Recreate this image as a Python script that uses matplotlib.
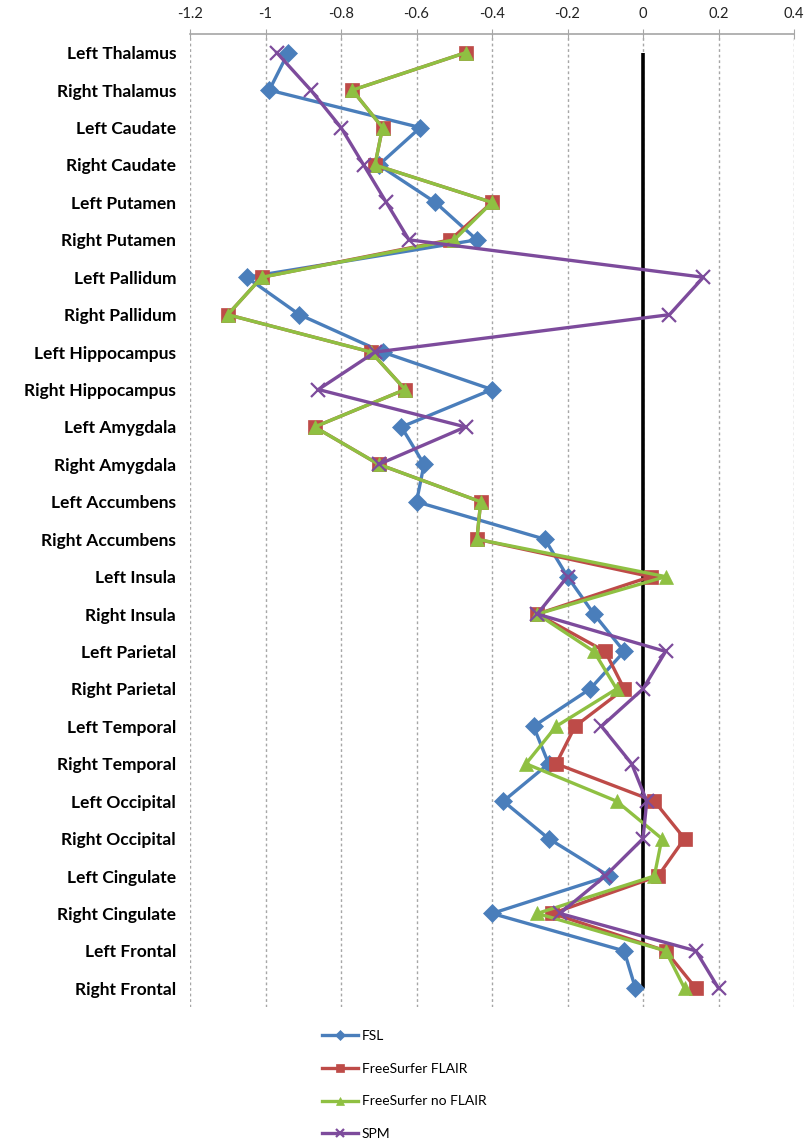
import numpy as np
import matplotlib
matplotlib.use("Agg")
import matplotlib.pyplot as plt

plt.rcParams["font.family"] = ["Lato", "DejaVu Sans"]

regions = [
    "Left Thalamus", "Right Thalamus", "Left Caudate", "Right Caudate",
    "Left Putamen", "Right Putamen", "Left Pallidum", "Right Pallidum",
    "Left Hippocampus", "Right Hippocampus", "Left Amygdala", "Right Amygdala",
    "Left Accumbens", "Right Accumbens", "Left Insula", "Right Insula",
    "Left Parietal", "Right Parietal", "Left Temporal", "Right Temporal",
    "Left Occipital", "Right Occipital", "Left Cingulate", "Right Cingulate",
    "Left Frontal", "Right Frontal",
]

fsl = [-0.94, -0.99, -0.59, -0.70, -0.55, -0.44, -1.05, -0.91,
       -0.69, -0.40, -0.64, -0.58, -0.60, -0.26, -0.20, -0.13,
       -0.05, -0.14, -0.29, -0.25, -0.37, -0.25, -0.09, -0.40,
       -0.05, -0.02]
fs_flair = [-0.47, -0.77, -0.69, -0.71, -0.40, -0.51, -1.01, -1.10,
            -0.72, -0.63, -0.87, -0.70, -0.43, -0.44, 0.02, -0.28,
            -0.10, -0.05, -0.18, -0.23, 0.03, 0.11, 0.04, -0.24,
            0.06, 0.14]
fs_noflair = [-0.47, -0.77, -0.69, -0.71, -0.40, -0.50, -1.01, -1.10,
              -0.72, -0.63, -0.87, -0.70, -0.43, -0.44, 0.06, -0.28,
              -0.13, -0.07, -0.23, -0.31, -0.07, 0.05, 0.03, -0.28,
              0.06, 0.11]
# no accumbens estimate for SPM
spm = [-0.97, -0.88, -0.80, -0.74, -0.68, -0.62, 0.16, 0.07,
       -0.71, -0.86, -0.47, -0.70, np.nan, np.nan, -0.20, -0.28,
       0.06, 0.00, -0.11, -0.03, 0.01, 0.00, -0.10, -0.22,
       0.14, 0.20]

xticks = [-1.2, -1.0, -0.8, -0.6, -0.4, -0.2, 0.0, 0.2, 0.4]
xtick_labels = ["-1.2", "-1", "-0.8", "-0.6", "-0.4", "-0.2", "0", "0.2", "0.4"]

W, H = 805, 1141
fig = plt.figure(figsize=(W / 100, H / 100), dpi=100)
ax = fig.add_axes([190 / W, 1 - 1007 / H, (794 - 190) / W, (1007 - 34) / H])

y = np.arange(len(regions))

for xv in xticks:
    ax.axvline(xv, color="#a6a6a6", lw=1.0, ls=(0, (2, 2)), zorder=0)
ax.vlines(0, 0, len(regions) - 1, color="black", lw=2.6, zorder=1)

series = [
    ("FSL", fsl, "#4a7ebb", "D", 9),
    ("FreeSurfer FLAIR", fs_flair, "#be4b48", "s", 9.5),
    ("FreeSurfer no FLAIR", fs_noflair, "#8fc042", "^", 10),
    ("SPM", spm, "#7d4b9c", "x", 10),
]
handles = []
for i, (name, vals, col, mk, ms) in enumerate(series):
    (h,) = ax.plot(vals, y, color=col, lw=2.4, marker=mk, ms=ms,
                   mew=1.6 if mk == "x" else 0.5, mec=col, zorder=2 + i,
                   label=name)
    handles.append(h)

ax.set_xlim(-1.2, 0.4)
ax.set_ylim(len(regions) - 0.5, -0.5)
ax.set_xticks(xticks)
ax.set_xticklabels(xtick_labels)
ax.xaxis.tick_top()
ax.tick_params(axis="x", direction="inout", length=7, color="#a6a6a6",
               labelsize=10.5, pad=6, labelcolor="#222222")
ax.set_yticks(y)
ax.set_yticklabels(regions, fontweight="bold", fontsize=12.5)
ax.tick_params(axis="y", length=0, pad=10)
for side in ["left", "right", "bottom"]:
    ax.spines[side].set_visible(False)
ax.spines["top"].set_color("#a6a6a6")
ax.spines["top"].set_linewidth(1.2)

leg = fig.legend(handles=handles, loc="upper left",
                 bbox_to_anchor=(312 / W, 1 - 1020 / H), frameon=False,
                 fontsize=10, labelspacing=1.5, handlelength=2.6,
                 handletextpad=0.3, markerscale=0.6, borderpad=0.2)

fig.savefig("out.png", dpi=100, facecolor="white")
